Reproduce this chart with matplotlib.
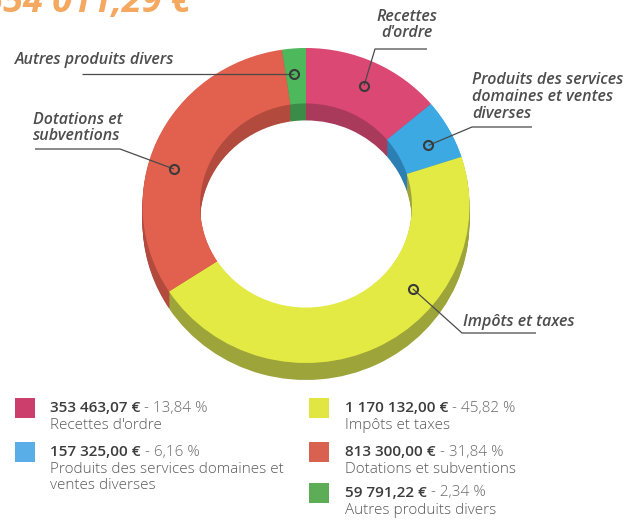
import matplotlib
matplotlib.use("Agg")
import matplotlib.pyplot as plt
import matplotlib.patches as mpatches
import numpy as np

plt.rcParams.update({
    'font.family': ['Open Sans', 'DejaVu Sans'],
    'savefig.dpi': 100,
})

# data
categories = ['Recettes d\'ordre',
              'Produits des services domaines et ventes diverses',
              'Impôts et taxes',
              'Dotations et subventions',
              'Autres produits divers']
amounts = [353463.07, 157325.00, 1170132.00, 813300.00, 59791.22]
percents = [13.84, 6.16, 45.82, 31.84, 2.34]

chart_labels = ['Recettes\nd\'ordre',
                'Produits des services\ndomaines et ventes\ndiverses',
                'Impôts et taxes',
                'Dotations et\nsubventions',
                'Autres produits divers']

top_colors = ['#DC4874', '#3CA9E2', '#E4EA44', '#E2604E', '#4EB85C']
side_colors = ['#A93A5C', '#2C7FB2', '#9DA43A', '#B24A3E', '#3A8C47']
legend_colors = ['#CC3E6C', '#5AAEE8', '#E2E642', '#D8614F', '#5CAD55']

W, H = 642, 522
fig = plt.figure(figsize=(W / 100, H / 100), dpi=100)

# donut axes: top surface bbox in pixels
x0, x1, y0, y1 = 142.5, 469.5, 48, 363
axd = fig.add_axes([x0 / W, 1 - y1 / H, (x1 - x0) / W, (y1 - y0) / H])

ring = 0.352
depth = 17 / ((y1 - y0) / 2)

# extruded side: stack of darker copies shifted downward
for off in np.linspace(depth, 0.005, 14):
    wedges, _ = axd.pie(amounts, colors=side_colors, startangle=90, counterclock=False,
                        radius=1, center=(0, -off),
                        wedgeprops=dict(width=ring, linewidth=0, antialiased=True))
    for w in wedges:
        w.set_clip_on(False)

wedges, _ = axd.pie(amounts, colors=top_colors, startangle=90, counterclock=False,
                    radius=1, center=(0, 0),
                    wedgeprops=dict(width=ring, linewidth=0))
for w in wedges:
    w.set_clip_on(False)
axd.set_aspect('auto')
axd.set_xlim(-1, 1)
axd.set_ylim(-1, 1)
axd.axis('off')

# overlay in pixel coordinates (y down)
ax = fig.add_axes([0, 0, 1, 1], zorder=5)
ax.set_xlim(0, W)
ax.set_ylim(H, 0)
ax.axis('off')


def to_px(xd, yd):
    disp = axd.transData.transform((xd, yd))
    return ax.transData.inverted().transform(disp)


LC = '#4a4a4a'
TXT = '#4d4d4d'
anchor_angle = [65, 27, -39, 164, 95]
anchor_r = 0.84
# (text x, text y, ha, elbow point, line end)
label_pos = [
    (407, 25, 'center', (375, 49), (427, 49)),
    (472, 97, 'left', (472, 127), (532, 127)),
    (463, 322, 'left', (462, 333), (536, 333)),
    (33, 128, 'left', (120, 149), (35, 149)),
    (15, 60, 'left', None, (82, 73)),
]

for lab, ang, (tx, ty, ha, elbow, end) in zip(chart_labels, anchor_angle, label_pos):
    t = np.deg2rad(ang)
    axp, ayp = to_px(anchor_r * np.cos(t), anchor_r * np.sin(t))
    if elbow is None:
        xs, ys = [axp, end[0]], [ayp, ayp]
    else:
        xs, ys = [axp, elbow[0], end[0]], [ayp, elbow[1], end[1]]
    ax.plot(xs, ys, color=LC, lw=0.9, solid_capstyle='butt', zorder=6)
    ax.plot(axp, ayp, 'o', ms=6.5, mfc='none', mec='#3a3a3a', mew=1.5, zorder=7)
    ax.text(tx, ty, lab, ha=ha, va='center', fontsize=11.5, style='italic',
            fontweight='semibold', color=TXT, linespacing=1.05, zorder=7)

# title (cut off at the top edge of the scan)
total = sum(amounts)


def fr(v):
    return f'{v:,.2f}'.replace(',', ' ').replace('.', ',')


ax.text(192, 12, fr(total) + ' €', ha='right', va='baseline', fontsize=26,
        fontweight='bold', style='italic', color='#F4A860', clip_on=False)

# legend
leg_cols = [(15, 50), (15, 50), (309, 345), (309, 345), (309, 345)]
leg_rows = [408, 452, 408, 452, 493]
leg_labels = ['Recettes d\'ordre',
              'Produits des services domaines et\nventes diverses',
              'Impôts et taxes',
              'Dotations et subventions',
              'Autres produits divers']
for i in range(len(amounts)):
    sx, tx = leg_cols[i]
    yc = leg_rows[i]
    ax.add_patch(mpatches.Rectangle((sx, yc - 10), 20, 20, facecolor=legend_colors[i],
                                    edgecolor='none'))
    t1 = ax.text(tx, yc, fr(amounts[i]) + ' €', ha='left', va='center', fontsize=11,
                 fontweight='semibold', color='#3c3c3c')
    pct = f'{percents[i]:.2f}'.replace('.', ',')
    ax.annotate(' - ' + pct + ' %', xy=(1, 0.5), xycoords=t1, ha='left', va='center',
                fontsize=11, color='#6a6a6a', fontweight='light')
    ax.text(tx, yc + 10, leg_labels[i], ha='left', va='top', fontsize=11,
            color='#5a5a5a', fontweight='light', linespacing=1.1)

fig.savefig('out.png', dpi=100, facecolor='white')
